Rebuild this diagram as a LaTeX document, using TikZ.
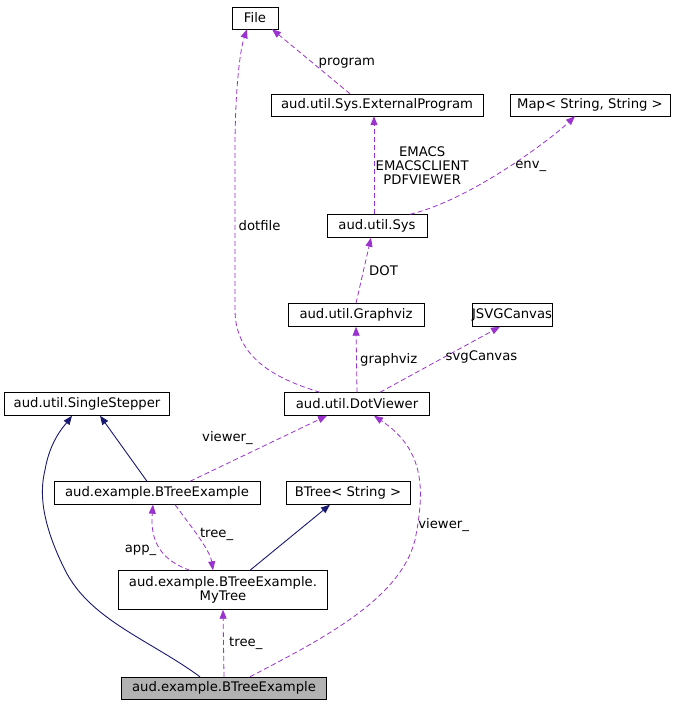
\documentclass[tikz,border=0pt]{standalone}
\usepackage{fontspec}
\setmainfont{DejaVu Sans}
\usetikzlibrary{arrows.meta}
\definecolor{dpurp}{HTML}{9A32CD}
\definecolor{dnavy}{HTML}{191970}
\begin{document}
\begin{tikzpicture}[x=1pt,y=-1pt,
  box/.style={draw=black,fill=white,inner sep=0pt,font=\fontsize{13.2}{14}\selectfont,align=center},
  dep/.style={draw=dpurp,line width=0.8pt,dash pattern=on 5pt off 3pt,-{Triangle[length=9pt,width=7pt,fill=dpurp]}},
  inh/.style={draw=dnavy,line width=0.9pt,-{Triangle[length=9pt,width=7pt,fill=dnavy]}},
  lbl/.style={font=\fontsize{13.2}{14}\selectfont,align=center}]
\useasboundingbox (0,0) rectangle (677,707);
\node[box,minimum width=46,minimum height=22] (file) at (255,18) {File};
\node[box,minimum width=212,minimum height=22] (ext) at (377,105) {aud.util.Sys.ExternalProgram};
\node[box,minimum width=160,minimum height=22] (map) at (590,105) {Map< String, String >};
\node[box,minimum width=100,minimum height=23] (sys) at (377,226) {aud.util.Sys};
\node[box,minimum width=136,minimum height=23] (gv) at (356,315) {aud.util.Graphviz};
\node[box,minimum width=72,minimum height=23] (jsvg) at (512,315) {JSVGCanvas};
\node[box,minimum width=165,minimum height=23] (ss) at (87,404) {aud.util.SingleStepper};
\node[box,minimum width=145,minimum height=23] (dv) at (357,404) {aud.util.DotViewer};
\node[box,minimum width=206,minimum height=23] (bte) at (157,493) {aud.example.BTreeExample};
\node[box,minimum width=124,minimum height=23] (bt) at (348,493) {BTree< String >};
\node[box,minimum width=209,minimum height=39] (my) at (223,590) {aud.example.BTreeExample.\\MyTree};
\node[box,fill=black!30,minimum width=205,minimum height=22] (main) at (224,688) {aud.example.BTreeExample};

\draw[dep] ([xshift=-27]ext.north) -- node[lbl,right,xshift=4pt,yshift=-2pt]{program} ([xshift=17]file.south);
\draw[dep] ([xshift=-3]sys.north) -- node[lbl,right,xshift=-2pt]{EMACS\\EMACSCLIENT\\PDFVIEWER} ([xshift=-3]ext.south);
\draw[dep] ([xshift=33]sys.north) .. controls (470,200) and (550,140) .. node[lbl,right,xshift=6pt,yshift=2pt]{env\_} ([xshift=-15]map.south);
\draw[dep] (gv.north) -- node[lbl,right,xshift=2pt]{DOT} ([xshift=-6]sys.south);
\draw[dep] ([xshift=-37]dv.north) .. controls (280,380) and (235,360) .. (235,310) -- node[lbl,right,xshift=0pt,pos=0.53]{dotfile} (235,150) .. controls (235,90) and (240,50) .. ([xshift=-8]file.south);
\draw[dep] (dv.north) -- node[lbl,right]{graphviz} (gv.south);
\draw[dep] ([xshift=23]dv.north) -- node[lbl,right,xshift=2pt,yshift=3pt]{svgCanvas} ([xshift=-12]jsvg.south);
\draw[inh] ([xshift=-10]bte.north) -- ([xshift=13]ss.south);
\draw[dep] ([xshift=33]bte.north) -- node[lbl,above left,xshift=-2pt]{viewer\_} ([xshift=-30]dv.south);
\draw[inh] ([xshift=27]my.north) -- ([xshift=-18]bt.south);
\draw[dep] ([xshift=-33]my.north) .. controls (160,560) and (150,540) .. node[lbl,left,xshift=-1pt,pos=0.45]{app\_} ([xshift=-4]bte.south);
\draw[dep] ([xshift=18]bte.south) .. controls (190,525) and (210,550) .. node[lbl,right,pos=0.45]{tree\_} ([xshift=-10]my.north);
\draw[dep] (main.north) -- node[lbl,right,xshift=2pt]{tree\_} (my.south);
\draw[inh] ([xshift=-24]main.north) .. controls (150,640) and (90,620) .. (65,570) .. controls (40,520) and (40,490) .. (45,470) .. controls (50,440) and (65,425) .. ([xshift=-15]ss.south);
\draw[dep] ([xshift=26]main.north) .. controls (320,640) and (400,600) .. (415,540) .. controls (425,490) and (425,450) .. node[lbl,right,pos=0.1,xshift=-3pt]{viewer\_} ([xshift=17]dv.south);
\end{tikzpicture}
\end{document}
